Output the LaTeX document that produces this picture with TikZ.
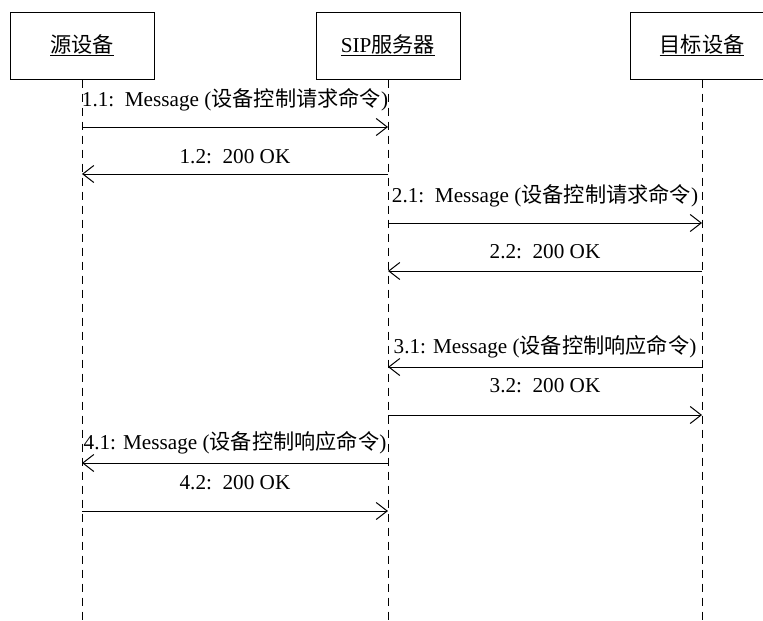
\documentclass[tikz,border=0pt]{standalone}
\usepackage{fontspec}
\setmainfont{Liberation Serif}
\newfontfamily\cjk{Noto Sans CJK SC}
\usetikzlibrary{arrows.meta}
\newcommand{\zh}[1]{{\cjk #1}}
\begin{document}
\begin{tikzpicture}[x=1pt,y=-1pt,
  every node/.style={font=\fontsize{21.2}{25}\selectfont, inner sep=0pt},
  actor/.style={draw, line width=1pt, minimum width=144pt, minimum height=67pt},
  life/.style={dashed, dash pattern=on 8pt off 6pt, line width=0.9pt},
  msg/.style={line width=1pt, -{Straight Barb[length=11pt,width=17pt,line width=1pt]}},
  lbl/.style={anchor=center}]
\useasboundingbox (0,0) rectangle (763,621);
\fill[white] (0,0) rectangle (763,621);
% actors
\node[actor] (src) at (82,45.5) {};
\node (srct) at (82,45) {\underline{\zh{源设备}}};
\node[actor] (sip) at (388,45.5) {};
\node (sipt) at (388,45) {\underline{SIP\zh{服务器}}};
\node[actor] (dst) at (702,45.5) {};
\node (dstt) at (702,45) {\underline{\zh{目标设备}}};
% lifeline ends
\coordinate (srcb) at (82,621);
\coordinate (sipb) at (388,621);
\coordinate (dstb) at (702,621);
\draw[life] (src.south) -- (srcb);
\draw[life] (sip.south) -- (sipb);
\draw[life] (dst.south) -- (dstb);
% message end points
\foreach \n/\y in {11/127,12/174,21/223,22/271,31/367,32/415,41/463,42/511}{
  \coordinate (a\n) at (82,\y);
  \coordinate (b\n) at (388,\y);
  \coordinate (c\n) at (702,\y);
}
% messages
\draw[msg] (a11) -- (b11);
\node[lbl] (l11) at (235,100) {1.1:\ \ Message (\zh{设备控制请求命令})};
\draw[msg] (b12) -- (a12);
\node[lbl] (l12) at (235,157) {1.2:\ \ 200 OK};
\draw[msg] (b21) -- (c21);
\node[lbl] (l21) at (545,196) {2.1:\ \ Message (\zh{设备控制请求命令})};
\draw[msg] (c22) -- (b22);
\node[lbl] (l22) at (545,252) {2.2:\ \ 200 OK};
\draw[msg] (c31) -- (b31);
\node[lbl] (l31) at (545,347) {3.1: Message (\zh{设备控制响应命令})};
\draw[msg] (b32) -- (c32);
\node[lbl] (l32) at (545,386) {3.2:\ \ 200 OK};
\draw[msg] (b41) -- (a41);
\node[lbl] (l41) at (235,443) {4.1: Message (\zh{设备控制响应命令})};
\draw[msg] (a42) -- (b42);
\node[lbl] (l42) at (235,483) {4.2:\ \ 200 OK};
\end{tikzpicture}
\end{document}
